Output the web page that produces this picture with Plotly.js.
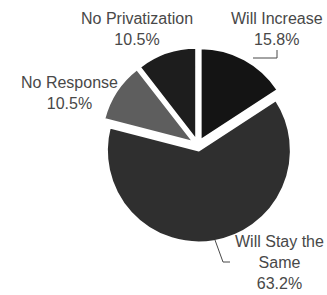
<!DOCTYPE html>
<html>
<head>
<meta charset="utf-8">
<script src="https://cdn.plot.ly/plotly-3.0.1.min.js"></script>
<style>html,body{margin:0;padding:0;background:#fff;}#chart{width:327px;height:295px;}</style>
</head>
<body>
<div id="chart"></div>
<script>
var categories = ["Will Increase", "Will Stay the Same", "No Response", "No Privatization"];
var values = [15.8, 63.2, 10.5, 10.5];
var labelText = ["Will Increase<br>15.8%", "Will Stay the<br>Same<br>63.2%", "No Response<br>10.5%", "No Privatization<br>10.5%"];
var sliceColors = ["#141414", "#2f2f2f", "#5e5e5e", "#1d1d1d"];

var W = 327, H = 295;
function px(x){ return x / W; }
function py(y){ return 1 - y / H; }

var labelPos = [[277, 29], [279, 262], [69, 93], [137, 29]];

var annotations = categories.map(function(c, i){
  return {
    xref: "paper", yref: "paper",
    x: px(labelPos[i][0]), y: py(labelPos[i][1]),
    xanchor: "center", yanchor: "middle",
    text: labelText[i], showarrow: false, align: "center",
    font: {family: "Liberation Sans, Arial, sans-serif", size: 16, color: "#484848"}
  };
});

function pathPx(pts){
  return pts.map(function(p, i){ return (i ? "L" : "M") + px(p[0]) + "," + py(p[1]); }).join(" ");
}
var shapes = [
  {type: "path", xref: "paper", yref: "paper", path: pathPx([[277,50],[277,58],[253,58]]), line: {color: "#484848", width: 1}},
  {type: "path", xref: "paper", yref: "paper", path: pathPx([[215,240],[223,262],[230,262]]), line: {color: "#484848", width: 1}}
];

var trace = {
  type: "pie",
  labels: categories,
  values: values,
  sort: false,
  direction: "clockwise",
  rotation: 0,
  pull: [0.06, 0.06, 0.06, 0.06],
  textinfo: "none",
  hoverinfo: "label+percent",
  marker: {colors: sliceColors, line: {color: "#ffffff", width: 2}},
  domain: {x: [0.3073, 0.9037], y: [0.178, 0.839]},
  showlegend: false
};

Plotly.newPlot("chart", [trace], {
  width: W, height: H,
  margin: {l: 0, r: 0, t: 0, b: 0},
  paper_bgcolor: "#ffffff",
  showlegend: false,
  annotations: annotations,
  shapes: shapes
}, {displayModeBar: false, staticPlot: true});
</script>
</body>
</html>
